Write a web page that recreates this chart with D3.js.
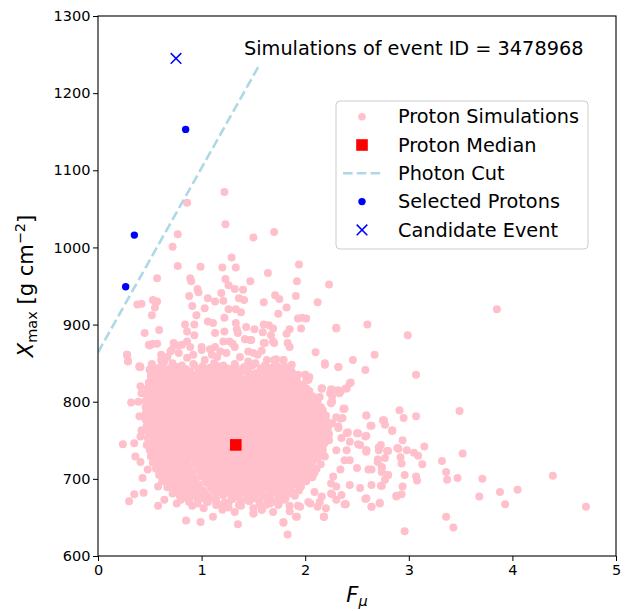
<!DOCTYPE html>
<html><head><meta charset="utf-8">
<script src="https://cdn.jsdelivr.net/npm/d3@7"></script>
<style>body{margin:0;background:#fff}text{font-family:"DejaVu Sans",sans-serif;fill:#000}</style>
</head><body><svg id="c" width="634" height="611"></svg>
<script>
// ---- data ----
const protonSims = [
// sparse outliers
[1.22,1072],[0.86,1058],[1.23,1030],[0.77,1017],[1.70,1020],[1.50,1013],[0.72,1001],[1.29,987],[0.77,976],[0.99,975],[1.20,974],[1.33,974],[1.94,978],[1.64,967],[0.57,960],[0.89,960],[1.23,959],[1.47,956],[1.92,956],[2.23,952],[1.26,951],[0.90,956],[0.96,946],[1.32,946],[1.40,945],[0.97,942],[1.19,941],[0.88,937],[1.06,934],[1.21,931],[1.13,930],[1.36,934],[1.41,932],[1.71,938],[1.75,933],[1.91,937],[1.60,929],[0.53,932],[0.57,930],[0.38,926],[0.42,927],[0.55,922],[0.52,912],[0.91,924],[1.03,921],[1.26,920],[1.33,920],[1.38,916],[1.82,922],[2.12,929],[1.74,914],[0.95,912],[1.22,909],[1.93,908],[1.97,909],[2.01,908],[0.45,889],[0.59,893],[0.84,900],[0.93,900],[1.06,904],[1.11,902],[1.33,902],[1.34,894],[1.43,897],[1.51,894],[1.60,900],[1.65,899],[1.69,895],[1.59,890],[1.67,886],[1.85,894],[1.82,888],[1.96,895],[2.30,896],[0.86,891],[0.93,886],[1.13,889],[1.22,891],[1.35,889],[1.42,881],[1.47,880],[1.60,876],[0.50,873],[0.57,875],[0.86,878],[0.77,873],[0.71,867],[0.28,861],[0.29,853],[2.10,864],[2.19,850],[2.32,845],[1.70,876],[1.83,876],[1.21,878],[1.30,875],[1.00,867],[1.13,871],[1.45,865],[1.54,861],[1.70,854],[1.79,854],[0.61,861],[0.64,852],[0.40,846],
[0.73,876],[0.81,874],[0.89,871],[1.00,871],[1.08,868],[1.18,865],[1.27,878],[1.32,871],[1.42,881],[1.48,880],[1.61,876],[1.69,878],[1.85,871],[0.49,874],[0.53,875],[0.28,861],[0.41,845],[0.50,842],[0.53,845],[0.61,854],[0.70,865],[0.78,863],[0.92,861],[1.03,854],[1.15,858],[1.24,863],[1.37,858],[1.50,863],[1.63,854],[1.72,855],[1.79,854],[1.87,848],[2.30,895],[2.00,835],[2.01,828],[1.81,822],[1.89,804],[1.98,802],[2.08,804],[2.16,817],[2.27,815],[0.86,857],[1.10,861],[1.45,852],[0.67,858],[1.58,866],
[0.29,852],[0.40,845],[0.50,841],[0.53,826],[0.41,820],[0.42,811],[0.32,799],[0.39,800],[0.40,781],[0.48,783],[0.42,763],[0.41,755],[0.24,745],[0.35,746],[0.47,744],[0.36,729],[0.41,722],[0.48,712],[0.43,701],[0.58,690],[0.35,680],[0.44,682],[0.30,671],[0.58,665],[0.64,673],[0.76,668],[0.85,646],[0.99,644],[1.11,651],[1.35,641],[1.20,660],[1.32,657],[1.50,655],[1.58,660],[1.79,644],[1.83,628],[1.91,651],[1.69,657],[1.74,666],[1.85,665],[1.93,665],[2.03,670],[2.12,664],[2.18,651],[2.20,662],[2.25,681],[2.30,673],[2.38,667],[2.19,848],[2.32,845],[2.00,835],[2.03,828],[1.82,821],[2.25,816],[2.33,811],[1.96,802],[2.25,798],[2.38,791],[2.06,768],[2.32,768],[2.40,759],[2.25,694],
[3.85,920],[2.60,900],[2.99,886],[2.46,854],[2.67,861],[2.58,841],[3.07,835],[2.44,825],[2.40,817],[2.34,813],[2.27,815],[2.16,817],[2.26,807],[2.25,799],[2.37,791],[2.59,782],[2.91,789],[2.95,779],[3.07,781],[3.49,788],[2.76,776],[2.77,770],[2.84,762],[2.63,769],[2.30,780],[2.36,779],[2.41,760],[2.50,759],[2.58,755],[2.51,745],[2.59,737],[2.59,735],[2.73,744],[2.80,736],[2.71,737],[2.94,750],[2.90,739],[2.98,737],[3.05,734],[3.09,730],[3.15,742],[2.92,728],[2.93,720],[3.13,719],[2.74,715],[2.70,722],[2.80,705],[2.77,699],[2.73,691],[2.74,709],[2.64,712],[2.96,705],[3.07,703],[3.08,698],[2.94,690],[2.93,680],[2.88,677],[2.72,669],[2.64,664],[2.58,674],[2.39,667],[2.18,651],[2.96,632],[3.32,723],[3.52,733],[3.36,709],[3.37,699],[3.47,701],[3.71,700],[3.68,677],[3.88,683],[3.93,667],[4.05,686],[4.39,704],[4.71,664],[3.36,651],[3.43,637],
[2.00,835],[2.04,832],[1.81,820],[2.01,817],[2.16,817],[2.24,811],[2.32,815],[2.43,824],[2.39,817],[1.89,807],[1.97,803],[2.06,804],[2.14,806],[2.26,800],[2.37,791],[2.59,782],[2.34,778],[2.75,776],[2.64,769],[2.84,763],[2.41,760],[2.51,759],[2.59,756],[2.53,744],[2.59,737],[2.71,741],[2.79,736],[2.89,740],[2.70,725],[2.77,727],[2.40,737],[2.43,724],[2.50,714],[2.61,712],[2.74,715],[2.80,705],[2.74,691],[2.64,692],[2.53,688],[2.43,692],[2.35,679],[2.26,680],[2.59,675],[2.64,664],[2.72,668],[2.39,667],[2.30,690],[2.88,678],[2.16,677],[2.14,670],[2.18,651],[1.79,643],[1.92,651],[1.85,658],[1.95,664],[2.05,668],[1.75,670],[1.58,660],[1.50,655],[2.09,683],[2.27,703],[2.34,712],[2.38,724],[2.30,737],[2.35,753],[2.43,748],[2.32,766],[2.26,772],[2.19,781],
// dense core
[0.52,849],[0.61,846],[0.72,850],[0.81,847],[0.92,849],[1.01,846],[1.12,850],[1.21,847],[1.32,849],[1.41,845],[1.52,850],[1.61,847],[1.71,849],[1.80,846],
[0.50,841],[0.57,838],[0.66,842],[0.73,839],[0.81,841],[0.88,837],[0.97,842],[1.04,839],[1.13,841],[1.20,838],[1.29,842],[1.36,839],[1.45,841],[1.52,837],[1.61,842],[1.68,839],[1.77,841],[1.86,838],
[0.51,833],[0.58,830],[0.65,834],[0.72,831],[0.79,833],[0.86,829],[0.93,834],[1.00,831],[1.07,833],[1.14,830],[1.21,834],[1.28,831],[1.35,833],[1.42,829],[1.49,834],[1.56,831],[1.63,833],[1.70,830],[1.77,834],[1.85,831],[1.92,833],
[0.49,825],[0.55,822],[0.62,826],[0.69,823],[0.76,825],[0.83,821],[0.90,826],[0.97,823],[1.04,825],[1.11,822],[1.18,826],[1.25,823],[1.32,825],[1.39,821],[1.46,826],[1.53,823],[1.60,825],[1.67,822],[1.74,826],[1.81,823],[1.88,825],[1.96,822],
[0.48,817],[0.54,814],[0.61,818],[0.68,815],[0.75,817],[0.82,813],[0.89,818],[0.96,815],[1.03,817],[1.10,814],[1.17,818],[1.24,815],[1.31,817],[1.38,813],[1.45,818],[1.52,815],[1.59,817],[1.66,814],[1.73,818],[1.80,815],[1.87,817],[1.94,814],[2.01,817],
[0.47,809],[0.53,806],[0.60,810],[0.67,807],[0.74,809],[0.81,805],[0.88,810],[0.95,807],[1.02,809],[1.09,806],[1.16,810],[1.23,807],[1.30,809],[1.37,805],[1.44,810],[1.51,807],[1.58,809],[1.65,806],[1.72,810],[1.79,807],[1.86,809],[1.93,806],[2.00,810],[2.07,807],
[0.46,801],[0.52,798],[0.59,802],[0.66,799],[0.73,801],[0.80,797],[0.87,802],[0.94,799],[1.01,801],[1.08,798],[1.15,802],[1.22,799],[1.29,801],[1.36,797],[1.43,802],[1.50,799],[1.57,801],[1.64,798],[1.71,802],[1.78,799],[1.85,801],[1.92,798],[1.99,802],[2.06,799],[2.12,801],
[0.46,793],[0.53,790],[0.60,794],[0.67,791],[0.74,793],[0.81,789],[0.88,794],[0.95,791],[1.02,793],[1.09,790],[1.16,794],[1.23,791],[1.30,793],[1.37,789],[1.44,794],[1.51,791],[1.58,793],[1.65,790],[1.72,794],[1.79,791],[1.86,793],[1.93,790],[2.00,794],[2.07,791],[2.15,793],
[0.46,785],[0.52,782],[0.59,786],[0.66,783],[0.73,785],[0.80,781],[0.87,786],[0.94,783],[1.01,785],[1.08,782],[1.15,786],[1.22,783],[1.29,785],[1.36,781],[1.43,786],[1.50,783],[1.57,785],[1.64,782],[1.71,786],[1.78,783],[1.85,785],[1.92,782],[1.99,786],[2.06,783],[2.13,785],[2.20,782],
[0.46,777],[0.53,774],[0.60,778],[0.67,775],[0.74,777],[0.81,773],[0.88,778],[0.95,775],[1.02,777],[1.09,774],[1.16,778],[1.23,775],[1.30,777],[1.37,773],[1.44,778],[1.51,775],[1.58,777],[1.65,774],[1.72,778],[1.79,775],[1.86,777],[1.93,774],[2.00,778],[2.07,775],[2.14,777],[2.21,774],
[0.47,769],[0.53,766],[0.60,770],[0.67,767],[0.74,769],[0.81,765],[0.88,770],[0.95,767],[1.02,769],[1.09,766],[1.16,770],[1.23,767],[1.30,769],[1.37,765],[1.44,770],[1.51,767],[1.58,769],[1.65,766],[1.72,770],[1.79,767],[1.86,769],[1.93,766],[2.00,770],[2.07,767],[2.14,769],[2.22,766],
[0.48,761],[0.55,758],[0.62,762],[0.69,759],[0.76,761],[0.83,757],[0.90,762],[0.97,759],[1.04,761],[1.11,758],[1.18,762],[1.25,759],[1.32,761],[1.39,757],[1.46,762],[1.53,759],[1.60,761],[1.67,758],[1.74,762],[1.81,759],[1.88,761],[1.95,758],[2.02,762],[2.09,759],[2.16,761],[2.23,758],
[0.48,753],[0.54,750],[0.61,754],[0.68,751],[0.75,753],[0.82,749],[0.89,754],[0.96,751],[1.03,753],[1.10,750],[1.17,754],[1.24,751],[1.31,753],[1.38,749],[1.45,754],[1.52,751],[1.59,753],[1.66,750],[1.73,754],[1.80,751],[1.87,753],[1.94,750],[2.01,754],[2.08,751],[2.15,753],[2.23,750],
[0.49,745],[0.56,742],[0.63,746],[0.70,743],[0.77,745],[0.84,741],[0.91,746],[0.98,743],[1.05,745],[1.12,742],[1.19,746],[1.26,743],[1.33,745],[1.40,741],[1.47,746],[1.54,743],[1.61,745],[1.68,742],[1.75,746],[1.82,743],[1.89,745],[1.96,742],[2.03,746],[2.10,743],[2.18,745],
[0.50,737],[0.56,734],[0.63,738],[0.70,735],[0.77,737],[0.84,733],[0.91,738],[0.98,735],[1.05,737],[1.12,734],[1.19,738],[1.26,735],[1.33,737],[1.40,733],[1.47,738],[1.54,735],[1.61,737],[1.68,734],[1.75,738],[1.82,735],[1.89,737],[1.96,734],[2.03,738],[2.10,735],[2.17,737],
[0.51,729],[0.58,726],[0.65,730],[0.72,727],[0.79,729],[0.86,725],[0.93,730],[1.00,727],[1.07,729],[1.14,726],[1.21,730],[1.28,727],[1.35,729],[1.42,725],[1.49,730],[1.56,727],[1.63,729],[1.70,726],[1.77,730],[1.84,727],[1.91,729],[1.98,726],[2.05,730],[2.12,727],[2.19,729],
[0.53,721],[0.60,718],[0.67,722],[0.74,719],[0.81,721],[0.88,717],[0.95,722],[1.02,719],[1.09,721],[1.16,718],[1.23,722],[1.30,719],[1.37,721],[1.44,717],[1.51,722],[1.58,719],[1.65,721],[1.72,718],[1.79,722],[1.86,719],[1.93,721],[2.00,718],[2.07,722],[2.15,719],
[0.56,713],[0.63,710],[0.70,714],[0.77,711],[0.84,713],[0.91,709],[0.98,714],[1.05,711],[1.12,713],[1.19,710],[1.26,714],[1.33,711],[1.40,713],[1.47,709],[1.54,714],[1.61,711],[1.68,713],[1.75,710],[1.82,714],[1.89,711],[1.96,713],[2.03,710],[2.11,713],
[0.59,705],[0.66,702],[0.73,706],[0.80,703],[0.87,705],[0.94,701],[1.01,706],[1.08,703],[1.15,705],[1.22,702],[1.29,706],[1.36,703],[1.43,705],[1.50,701],[1.57,706],[1.64,703],[1.71,705],[1.78,702],[1.85,706],[1.92,703],[1.99,705],[2.07,702],
[0.62,697],[0.69,694],[0.76,698],[0.83,695],[0.90,697],[0.97,693],[1.04,698],[1.11,695],[1.18,697],[1.25,694],[1.32,698],[1.39,695],[1.46,697],[1.53,693],[1.60,698],[1.67,695],[1.74,697],[1.81,694],[1.88,698],[1.95,695],[2.01,697],
[0.67,689],[0.74,686],[0.81,690],[0.88,687],[0.95,689],[1.02,685],[1.09,690],[1.16,687],[1.23,689],[1.30,686],[1.37,690],[1.44,687],[1.51,689],[1.58,685],[1.65,690],[1.72,687],[1.79,689],[1.86,686],[1.95,689],
[0.72,681],[0.79,678],[0.86,682],[0.93,679],[1.00,681],[1.07,677],[1.14,682],[1.21,679],[1.28,681],[1.35,678],[1.42,682],[1.49,679],[1.56,681],[1.63,677],[1.70,682],[1.77,679],[1.84,681],[1.90,678],
[0.80,673],[0.88,670],[0.96,674],[1.05,671],[1.13,673],[1.22,669],[1.30,674],[1.39,671],[1.47,673],[1.56,670],[1.64,674],[1.72,671],[1.80,673],
[0.91,665],[1.02,662],[1.14,666],[1.26,663],[1.38,665],[1.50,662],[1.62,666],
// dense core, in-between rows
[0.54,844],[0.62,846],[0.70,843],[0.77,845],[0.85,842],[0.93,847],[1.01,843],[1.08,844],[1.16,846],[1.25,843],[1.33,845],[1.40,842],[1.49,847],[1.57,843],[1.65,844],[1.73,846],[1.82,843],
[0.54,836],[0.61,838],[0.68,835],[0.75,837],[0.82,834],[0.89,839],[0.96,835],[1.03,836],[1.10,838],[1.17,835],[1.24,837],[1.31,834],[1.38,839],[1.45,835],[1.52,836],[1.59,838],[1.66,835],[1.73,837],[1.80,834],[1.87,839],[1.93,835],
[0.52,828],[0.59,830],[0.66,827],[0.73,829],[0.80,826],[0.87,831],[0.94,827],[1.01,828],[1.08,830],[1.15,827],[1.22,829],[1.29,826],[1.36,831],[1.43,827],[1.50,828],[1.57,830],[1.64,827],[1.71,829],[1.78,826],[1.85,831],[1.92,827],
[0.51,820],[0.58,822],[0.65,819],[0.72,821],[0.79,818],[0.86,823],[0.93,819],[1.00,820],[1.07,822],[1.14,819],[1.21,821],[1.28,818],[1.35,823],[1.42,819],[1.49,820],[1.56,822],[1.63,819],[1.70,821],[1.77,818],[1.84,823],[1.91,819],[1.98,820],
[0.50,812],[0.57,814],[0.64,811],[0.71,813],[0.78,810],[0.85,815],[0.92,811],[0.99,812],[1.06,814],[1.13,811],[1.20,813],[1.27,810],[1.34,815],[1.41,811],[1.48,812],[1.55,814],[1.62,811],[1.69,813],[1.76,810],[1.83,815],[1.90,811],[1.97,812],[2.04,814],
[0.49,804],[0.56,806],[0.63,803],[0.70,805],[0.77,802],[0.84,807],[0.91,803],[0.98,804],[1.05,806],[1.12,803],[1.19,805],[1.26,802],[1.33,807],[1.40,803],[1.47,804],[1.54,806],[1.61,803],[1.68,805],[1.75,802],[1.82,807],[1.89,803],[1.96,804],[2.03,806],[2.10,803],
[0.50,796],[0.57,798],[0.64,795],[0.71,797],[0.78,794],[0.85,799],[0.92,795],[0.99,796],[1.06,798],[1.13,795],[1.20,797],[1.27,794],[1.34,799],[1.41,795],[1.48,796],[1.55,798],[1.62,795],[1.69,797],[1.76,794],[1.83,799],[1.90,795],[1.97,796],[2.04,798],[2.11,795],
[0.49,788],[0.56,790],[0.63,787],[0.70,789],[0.77,786],[0.84,791],[0.91,787],[0.98,788],[1.05,790],[1.12,787],[1.19,789],[1.26,786],[1.33,791],[1.40,787],[1.47,788],[1.54,790],[1.61,787],[1.68,789],[1.75,786],[1.82,791],[1.89,787],[1.96,788],[2.03,790],[2.10,787],[2.17,789],
[0.50,780],[0.57,782],[0.64,779],[0.71,781],[0.78,778],[0.85,783],[0.92,779],[0.99,780],[1.06,782],[1.13,779],[1.20,781],[1.27,778],[1.34,783],[1.41,779],[1.48,780],[1.55,782],[1.62,779],[1.69,781],[1.76,778],[1.83,783],[1.90,779],[1.97,780],[2.04,782],[2.11,779],[2.18,781],
[0.49,772],[0.56,774],[0.63,771],[0.70,773],[0.77,770],[0.84,775],[0.91,771],[0.98,772],[1.05,774],[1.12,771],[1.19,773],[1.26,770],[1.33,775],[1.40,771],[1.47,772],[1.54,774],[1.61,771],[1.68,773],[1.75,770],[1.82,775],[1.89,771],[1.96,772],[2.03,774],[2.10,771],[2.17,773],
[0.51,764],[0.58,766],[0.65,763],[0.72,765],[0.79,762],[0.86,767],[0.93,763],[1.00,764],[1.07,766],[1.14,763],[1.21,765],[1.28,762],[1.35,767],[1.42,763],[1.49,764],[1.56,766],[1.63,763],[1.70,765],[1.77,762],[1.84,767],[1.91,763],[1.98,764],[2.05,766],[2.12,763],[2.19,765],
[0.50,756],[0.57,758],[0.64,755],[0.71,757],[0.78,754],[0.85,759],[0.92,755],[0.99,756],[1.06,758],[1.13,755],[1.20,757],[1.27,754],[1.34,759],[1.41,755],[1.48,756],[1.55,758],[1.62,755],[1.69,757],[1.76,754],[1.83,759],[1.90,755],[1.97,756],[2.04,758],[2.11,755],[2.18,757],
[0.52,748],[0.59,750],[0.66,747],[0.73,749],[0.80,746],[0.87,751],[0.94,747],[1.01,748],[1.08,750],[1.15,747],[1.22,749],[1.29,746],[1.36,751],[1.43,747],[1.50,748],[1.57,750],[1.64,747],[1.71,749],[1.78,746],[1.85,751],[1.92,747],[1.99,748],[2.06,750],[2.13,747],[2.20,749],
[0.53,740],[0.60,742],[0.67,739],[0.74,741],[0.81,738],[0.88,743],[0.95,739],[1.02,740],[1.09,742],[1.16,739],[1.23,741],[1.30,738],[1.37,743],[1.44,739],[1.51,740],[1.58,742],[1.65,739],[1.72,741],[1.79,738],[1.86,743],[1.93,739],[2.00,740],[2.07,742],[2.14,739],
[0.54,732],[0.61,734],[0.68,731],[0.75,733],[0.82,730],[0.89,735],[0.96,731],[1.03,732],[1.10,734],[1.17,731],[1.24,733],[1.31,730],[1.38,735],[1.45,731],[1.52,732],[1.59,734],[1.66,731],[1.73,733],[1.80,730],[1.87,735],[1.94,731],[2.01,732],[2.08,734],[2.15,731],
[0.56,724],[0.63,726],[0.70,723],[0.77,725],[0.84,722],[0.91,727],[0.98,723],[1.05,724],[1.12,726],[1.19,723],[1.26,725],[1.33,722],[1.40,727],[1.47,723],[1.54,724],[1.61,726],[1.68,723],[1.75,725],[1.82,722],[1.89,727],[1.96,723],[2.03,724],[2.10,726],
[0.59,716],[0.66,718],[0.73,715],[0.80,717],[0.87,714],[0.94,719],[1.01,715],[1.08,716],[1.15,718],[1.22,715],[1.29,717],[1.36,714],[1.43,719],[1.50,715],[1.57,716],[1.64,718],[1.71,715],[1.78,717],[1.85,714],[1.92,719],[1.99,715],[2.06,716],
[0.62,708],[0.69,710],[0.76,707],[0.83,709],[0.90,706],[0.97,711],[1.04,707],[1.11,708],[1.18,710],[1.25,707],[1.32,709],[1.39,706],[1.46,711],[1.53,707],[1.60,708],[1.67,710],[1.74,707],[1.81,709],[1.88,706],[1.95,711],[2.02,707],[2.09,708],
[0.65,700],[0.72,702],[0.79,699],[0.86,701],[0.93,698],[1.00,703],[1.07,699],[1.14,700],[1.21,702],[1.28,699],[1.35,701],[1.42,698],[1.49,703],[1.56,699],[1.63,700],[1.70,702],[1.77,699],[1.84,701],[1.91,698],[1.98,703],
[0.70,692],[0.77,694],[0.84,691],[0.91,693],[0.98,690],[1.05,695],[1.12,691],[1.19,692],[1.26,694],[1.33,691],[1.40,693],[1.47,690],[1.54,695],[1.61,691],[1.68,692],[1.75,694],[1.82,691],[1.89,693],[1.96,690],
[0.75,684],[0.82,686],[0.89,683],[0.96,685],[1.03,682],[1.10,687],[1.17,683],[1.24,684],[1.31,686],[1.38,683],[1.45,685],[1.52,682],[1.59,687],[1.66,683],[1.73,684],[1.80,686],[1.87,683],[1.94,685],
[0.84,676],[0.91,678],[0.99,675],[1.06,677],[1.14,674],[1.21,679],[1.29,675],[1.36,676],[1.44,678],[1.51,675],[1.59,677],[1.66,674],[1.74,679],[1.81,675],
[0.96,668],[1.06,670],[1.16,667],[1.26,669],[1.36,666],[1.46,671],[1.56,667],[1.66,668]
];
const protonMedian = [[1.33, 744]];
const selectedProtons = [[0.267, 949], [0.351, 1016], [0.846, 1153]];
const candidateEvent = [[0.753, 1245]];
const photonCut = [[0, 864], [1.547, 1234]];
const xTicks = [0, 1, 2, 3, 4, 5];
const yTicks = [600, 700, 800, 900, 1000, 1100, 1200, 1300];
const legendLabels = ["Proton Simulations", "Proton Median", "Photon Cut", "Selected Protons", "Candidate Event"];
const titleText = "Simulations of event ID = 3478968";

// ---- drawing ----
const svg = d3.select("#c");
const x = d3.scaleLinear().domain([0, 5]).range([98, 616]);
const y = d3.scaleLinear().domain([600, 1300]).range([556, 16]);
const PINK = "#ffc0cb", BLUE = "#0000ff", RED = "#ff0000", LB = "#add8e6";

svg.append("defs").append("clipPath").attr("id", "pc")
  .append("rect").attr("x", 98).attr("y", 16).attr("width", 518).attr("height", 540);
const plot = svg.append("g").attr("clip-path", "url(#pc)");

plot.append("g").selectAll("circle").data(protonSims).join("circle")
  .attr("cx", d => x(d[0])).attr("cy", d => y(d[1])).attr("r", 4).attr("fill", PINK);

plot.selectAll("rect.med").data(protonMedian).join("rect").attr("class", "med")
  .attr("x", d => x(d[0]) - 5.8).attr("y", d => y(d[1]) - 5.8).attr("width", 11.6).attr("height", 11.6).attr("fill", RED);

plot.append("path").datum(photonCut)
  .attr("d", d3.line().x(d => x(d[0])).y(d => y(d[1])))
  .attr("stroke", LB).attr("stroke-width", 2.6).attr("fill", "none").attr("stroke-dasharray", "9.6,4.2");

plot.selectAll("circle.sel").data(selectedProtons).join("circle").attr("class", "sel")
  .attr("cx", d => x(d[0])).attr("cy", d => y(d[1])).attr("r", 3.7).attr("fill", BLUE);

const xMark = (g, cx, cy, s) => g.append("path")
  .attr("d", `M${cx - s},${cy - s}L${cx + s},${cy + s}M${cx - s},${cy + s}L${cx + s},${cy - s}`)
  .attr("stroke", BLUE).attr("stroke-width", 1.5).attr("fill", "none");
candidateEvent.forEach(d => xMark(plot, x(d[0]), y(d[1]), 5.3));

// axes
const ax = svg.append("g").attr("transform", "translate(0,556)")
  .call(d3.axisBottom(x).tickValues(xTicks).tickFormat(d3.format("d")).tickSize(5).tickPadding(4));
const ay = svg.append("g").attr("transform", "translate(98,0)")
  .call(d3.axisLeft(y).tickValues(yTicks).tickFormat(d3.format("d")).tickSize(5).tickPadding(2.5));
[ax, ay].forEach(a => {
  a.select(".domain").remove();
  a.selectAll("text").attr("font-size", "14.5px").attr("font-family", "DejaVu Sans").attr("fill", "#000");
  a.selectAll("line").attr("stroke", "#000").attr("stroke-width", 1);
});
svg.append("rect").attr("x", 98).attr("y", 16).attr("width", 518).attr("height", 540)
  .attr("fill", "none").attr("stroke", "#000").attr("stroke-width", 1.1);

// title
svg.append("text").attr("x", 244).attr("y", 55).attr("font-size", "19.3px").text(titleText);

// axis labels
const xl = svg.append("text").attr("x", 357).attr("y", 602).attr("text-anchor", "middle").attr("font-size", "21px");
xl.append("tspan").attr("font-style", "italic").text("F");
xl.append("tspan").attr("font-style", "italic").attr("font-size", "14.5px").attr("dy", 4).text("μ");

const yl = svg.append("text").attr("transform", "translate(33,286) rotate(-90)").attr("text-anchor", "middle").attr("font-size", "21px");
yl.append("tspan").attr("font-style", "italic").text("X");
yl.append("tspan").attr("font-size", "14.5px").attr("dy", 4).text("max");
yl.append("tspan").attr("dy", -4).text(" [g cm");
yl.append("tspan").attr("font-size", "14.5px").attr("dy", -8).text("−2");
yl.append("tspan").attr("dy", 8).text("]");

// legend
const lg = svg.append("g");
lg.append("rect").attr("x", 336).attr("y", 101).attr("width", 252).attr("height", 148).attr("rx", 4)
  .attr("fill", "#fff").attr("fill-opacity", 0.8).attr("stroke", "#cccccc").attr("stroke-width", 1);
const rowY = i => 116.7 + i * 28.3;
legendLabels.forEach((t, i) => {
  lg.append("text").attr("x", 398).attr("y", rowY(i)).attr("dy", "0.35em").attr("font-size", "19.3px").text(t);
});
lg.append("circle").attr("cx", 362).attr("cy", rowY(0)).attr("r", 3.8).attr("fill", PINK);
lg.append("rect").attr("x", 362 - 5.8).attr("y", rowY(1) - 5.8).attr("width", 11.6).attr("height", 11.6).attr("fill", RED);
lg.append("line").attr("x1", 343).attr("x2", 382).attr("y1", rowY(2)).attr("y2", rowY(2))
  .attr("stroke", LB).attr("stroke-width", 2.6).attr("stroke-dasharray", "9.6,4.2");
lg.append("circle").attr("cx", 362).attr("cy", rowY(3)).attr("r", 3.7).attr("fill", BLUE);
xMark(lg, 362, rowY(4), 5.3);
</script></body></html>
